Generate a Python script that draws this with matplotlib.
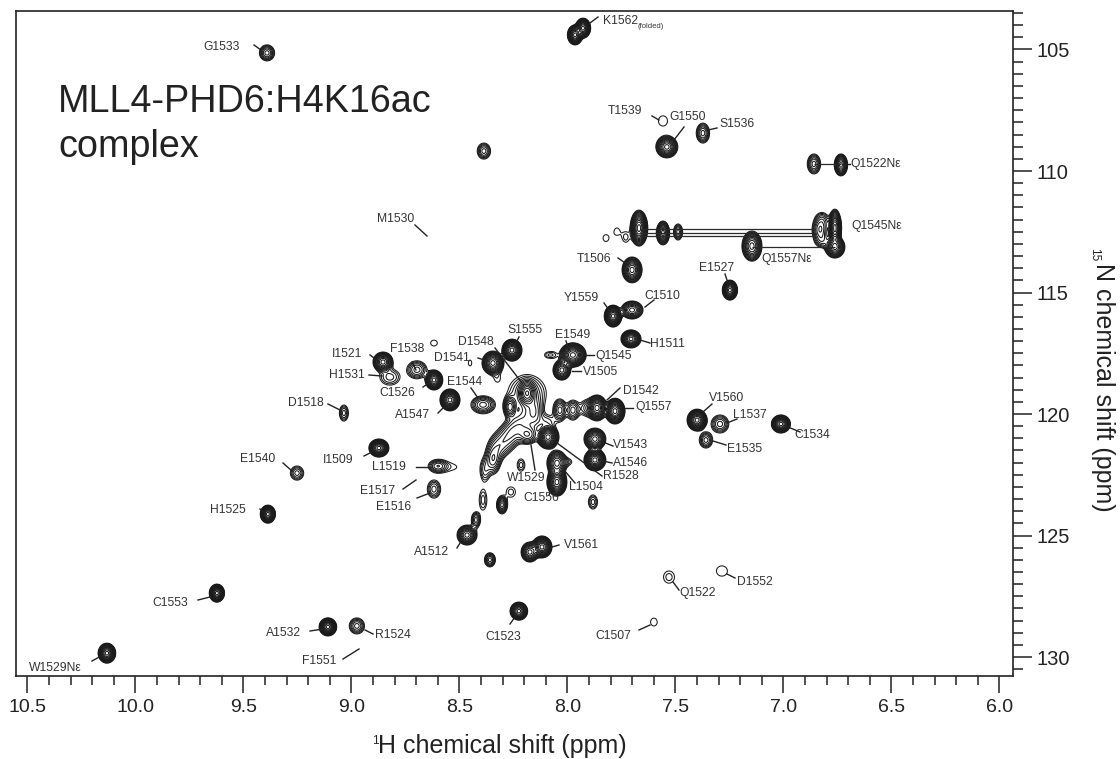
import numpy as np
import matplotlib
matplotlib.use('Agg')
import matplotlib.pyplot as plt
from matplotlib.lines import Line2D
from matplotlib.ticker import MultipleLocator

plt.rcParams['font.family'] = ['Liberation Sans', 'DejaVu Sans']

# peak centres (ppm), outer contour half widths (ppm), number of contour rings
peak_h = [9.391, 7.965, 7.928, 7.558, 7.54, 7.373, 8.387, 6.859, 6.734, 7.669,
          7.558, 7.488, 7.146, 6.762, 6.762, 6.831, 7.822, 7.771, 7.73, 7.248,
          7.701, 7.701, 7.789, 7.706, 8.257, 8.345, 7.975, 8.026, 8.067, 8.095,
          8.854, 8.822, 8.697, 8.618, 8.618, 8.451, 8.326, 8.544, 8.391, 8.187,
          8.266, 8.183, 8.257, 8.345, 8.326, 8.174, 8.095, 8.09, 8.035, 7.975,
          7.91, 7.863, 7.78, 7.873, 7.873, 8.049, 8.049, 8.002, 8.215, 8.6,
          8.544, 8.618, 8.873, 9.387, 9.035, 9.252, 7.4, 7.294, 7.359, 7.012,
          7.53, 7.285, 7.6, 8.225, 9.623, 9.109, 8.975, 10.132, 8.391, 8.424,
          8.465, 8.303, 8.262, 7.882, 8.118, 8.174, 8.359,
          8.187, 8.289, 8.22, 8.15, 8.382, 6.822, 6.822]
peak_n = [105.14, 104.40, 104.12, 107.94, 109.01, 108.44, 109.18, 109.71, 109.75, 112.35,
          112.55, 112.51, 113.09, 112.35, 113.13, 112.43, 112.76, 112.47, 112.72, 114.90,
          114.07, 115.72, 115.97, 116.91, 117.37, 117.90, 117.57, 118.19, 117.57, 117.57,
          117.86, 118.48, 118.18, 118.60, 117.08, 117.90, 118.52, 119.42, 119.62, 119.14,
          119.71, 120.86, 120.74, 121.89, 121.40, 120.04, 120.33, 120.95, 119.84, 119.84,
          119.75, 119.75, 119.88, 121.03, 121.89, 122.02, 122.80, 121.97, 122.10, 122.14,
          122.18, 123.09, 121.40, 124.12, 119.96, 122.43, 120.25, 120.41, 121.07, 120.41,
          126.71, 126.46, 128.56, 128.11, 127.37, 128.76, 128.72, 129.84, 123.54, 124.36,
          124.98, 123.74, 123.21, 123.62, 125.47, 125.68, 126.0,
          119.14, 121.07, 120.46, 119.92, 122.3, 112.06, 112.84]
peak_wh = [.032, .032, .032, .019, .046, .028, .028, .028, .028, .037,
           .028, .019, .042, .028, .042, .032, .012, .007, .014, .032,
           .042, .046, .037, .042, .042, .046, .056, .037, .014, .007,
           .042, .042, .042, .037, .014, .007, .009, .042, .051, .037,
           .028, .042, .037, .032, .037, .037, .032, .046, .028, .028,
           .028, .042, .042, .046, .046, .042, .042, .019, .016, .037,
           .028, .028, .042, .032, .019, .028, .042, .037, .028, .04,
           .023, .023, .014, .037, .032, .037, .032, .037, .016, .019,
           .042, .023, .019, .019, .042, .037, .023,
           .08, .04, .04, .025, .02, .03, .03]
peak_wn = [.33, .41, .41, .21, .45, .41, .33, .41, .45, .74,
           .49, .33, .62, .78, .45, .41, .14, .10, .21, .41,
           .53, .37, .45, .37, .45, .49, .5, .41, .12, .06,
           .41, .33, .37, .41, .12, .12, .12, .45, .37, .53,
           .45, .37, .49, .58, .49, .58, .25, .49, .45, .41,
           .33, .53, .53, .45, .45, .53, .58, .12, .25, .25,
           .12, .37, .37, .37, .33, .29, .45, .37, .33, .37,
           .25, .21, .16, .37, .37, .37, .33, .41, .41, .33,
           .41, .37, .21, .29, .45, .41, .29,
           .75, .5, .5, .5, .45, .35, .3]
peak_rings = [7, 14, 14, 1, 12, 7, 6, 7, 11, 14,
              11, 6, 11, 14, 12, 7, 1, 1, 2, 14,
              12, 10, 14, 13, 14, 13, 14, 11, 2, 1,
              12, 4, 6, 13, 1, 1, 1, 14, 7, 11,
              9, 7, 5, 7, 5, 4, 3, 14, 7, 6,
              4, 13, 14, 12, 14, 11, 14, 2, 3, 6,
              1, 5, 14, 14, 5, 5, 14, 6, 6, 14,
              2, 1, 1, 13, 14, 14, 6, 14, 3, 6,
              11, 9, 2, 4, 14, 11, 7,
              5, 5, 5, 4, 4, 5, 5]

# side-chain NH2 pairs joined by horizontal lines
link_n = [109.71, 112.39, 112.55, 112.68, 113.13]
link_from = [6.859, 7.665, 7.665, 7.665, 7.146]
link_to = [6.734, 6.855, 6.855, 6.855, 6.762]

x_major = [10.5, 10.0, 9.5, 9.0, 8.5, 8.0, 7.5, 7.0, 6.5, 6.0]
y_major = [105, 110, 115, 120, 125, 130]

# assignment labels: text, x, y in image pixels, alignment
labels = [('K1562', 603, 21, 'left'), ('G1533', 222, 47, 'center'), ('T1539', 625, 111, 'center'),
          ('G1550', 688, 117, 'center'), ('S1536', 737, 124, 'center'), ('Q1522Nε', 850, 164, 'left'),
          ('Q1545Nε', 851, 226, 'left'), ('Q1557Nε', 761, 259, 'left'), ('M1530', 396, 219, 'center'),
          ('T1506', 594, 259, 'center'), ('E1527', 717, 268, 'center'), ('Y1559', 581, 298, 'center'),
          ('C1510', 662, 296, 'center'), ('H1511', 650, 344, 'left'), ('E1549', 573, 335, 'center'),
          ('Q1545', 595, 356, 'left'), ('V1505', 583, 372, 'left'), ('S1555', 525, 330, 'center'),
          ('D1548', 476, 342, 'center'), ('D1541', 452, 358, 'center'), ('I1521', 347, 354, 'center'),
          ('F1538', 407, 349, 'center'), ('H1531', 347, 375, 'center'), ('C1526', 397, 393, 'center'),
          ('E1544', 465, 382, 'center'), ('A1547', 413, 415, 'center'), ('D1542', 623, 391, 'left'),
          ('Q1557', 635, 407, 'left'), ('V1543', 613, 445, 'left'), ('A1546', 613, 463, 'left'),
          ('R1528', 603, 476, 'left'), ('L1504', 569, 487, 'left'), ('C1556', 523, 498, 'left'),
          ('W1529', 507, 478, 'left'), ('L1519', 372, 467, 'left'), ('E1517', 360, 491, 'left'),
          ('E1516', 376, 507, 'left'), ('I1509', 338, 460, 'center'), ('D1518', 306, 403, 'center'),
          ('E1540', 258, 459, 'center'), ('H1525', 228, 510, 'center'), ('V1560', 727, 398, 'center'),
          ('L1537', 750, 415, 'center'), ('E1535', 745, 449, 'center'), ('C1534', 812, 435, 'center'),
          ('V1561', 564, 545, 'left'), ('A1512', 432, 552, 'center'), ('Q1522', 679, 593, 'left'),
          ('D1552', 737, 582, 'left'), ('C1507', 613, 636, 'center'), ('C1523', 503, 637, 'center'),
          ('C1553', 170, 603, 'center'), ('A1532', 284, 633, 'center'), ('R1524', 375, 635, 'left'),
          ('F1551', 319, 661, 'center'), ('W1529Nε', 29, 668, 'left')]

# leader lines, image pixels
leaders = [(590, 23, 598, 17), (254, 45, 261, 50), (652, 116, 659, 120), (684, 127, 674, 140),
           (717, 128, 708, 130), (843, 164, 850, 164), (415, 225, 427, 236), (618, 258, 628, 265),
           (725, 274, 728, 283), (604, 303, 609, 310), (654, 300, 645, 307), (640, 340, 650, 343),
           (566, 341, 569, 350), (585, 355, 594, 355), (572, 371, 581, 371), (519, 337, 516, 343),
           (495, 348, 522, 383), (478, 358, 487, 361), (370, 355, 378, 361), (412, 362, 416, 370),
           (369, 375, 382, 376), (423, 387, 429, 383), (471, 388, 478, 398), (438, 413, 443, 408),
           (620, 388, 607, 400), (625, 408, 633, 408), (603, 442, 613, 446), (603, 461, 612, 463),
           (557, 443, 602, 476), (564, 470, 575, 483), (551, 490, 549, 495), (531, 445, 535, 470),
           (416, 467, 432, 467), (403, 489, 416, 480), (417, 498, 430, 493), (364, 456, 372, 452),
           (328, 404, 340, 410), (283, 463, 292, 471), (260, 509, 265, 513), (712, 404, 703, 412),
           (737, 419, 727, 423), (726, 445, 713, 441), (800, 432, 788, 427), (552, 547, 559, 545),
           (457, 548, 460, 543), (679, 590, 673, 582), (735, 578, 727, 574), (639, 630, 650, 625),
           (510, 624, 515, 617), (198, 600, 210, 597), (310, 631, 323, 629), (365, 630, 373, 634),
           (343, 659, 359, 649), (92, 661, 101, 656)]

W, H = 1120, 759
L_PX, R_PX, T_PX, B_PX = 16, 1013, 11, 676
fig = plt.figure(figsize=(W / 100, H / 100), dpi=100)
ax = fig.add_axes([L_PX / W, 1 - B_PX / H, (R_PX - L_PX) / W, (B_PX - T_PX) / H])


def fx(x):
    return x / W


def fy(y):
    return 1 - y / H


# build the spectrum as a sum of 2D gaussians, one per peak
ratio = 1.3
grid_h = np.linspace(10.553, 5.9375, 1400)
grid_n = np.linspace(103.416, 130.78, 930)
surface = np.zeros((grid_n.size, grid_h.size))
for h0, n0, wh, wn, rings in zip(peak_h, peak_n, peak_wh, peak_wn, peak_rings):
    spread = np.sqrt(2 * (rings - 0.5) * np.log(ratio))
    gx = np.exp(-0.5 * ((grid_h - h0) / (1.1 * wh / spread)) ** 2)
    gy = np.exp(-0.5 * ((grid_n - n0) / (wn / spread)) ** 2)
    surface += ratio ** (rings - 0.5) * np.outer(gy, gx)

levels = ratio ** np.arange(0, 36)
ax.contour(grid_h, grid_n, surface, levels=levels, colors='#1a1a1a', linewidths=0.75)

ax.hlines(link_n, link_from, link_to, colors='#2a2a2a', linewidth=0.9)

ax.set_xlim(10.553, 5.9375)
ax.set_ylim(130.78, 103.416)
ax.yaxis.tick_right()
ax.set_xticks(x_major)
ax.set_yticks(y_major)
ax.set_xticklabels([f'{v:.1f}' for v in x_major])
ax.xaxis.set_minor_locator(MultipleLocator(0.1))
ax.yaxis.set_minor_locator(MultipleLocator(0.5))
ax.tick_params(axis='x', which='major', length=12.5, width=1.1, labelsize=14, pad=4, colors='#222222')
ax.tick_params(axis='x', which='minor', length=6.5, width=1.1, colors='#222222')
ax.tick_params(axis='y', which='major', length=14, width=1.1, labelsize=14.5, pad=3, colors='#222222')
ax.tick_params(axis='y', which='minor', length=7, width=1.1, colors='#222222')
for side in ax.spines.values():
    side.set_linewidth(1.2)
    side.set_color('#222222')

for name, x, y, align in labels:
    fig.text(fx(x), fy(y), name, fontsize=8.7, ha=align, va='center', color='#333333')
fig.text(fx(638), fy(27), '(folded)', fontsize=5.5, ha='left', va='center', color='#333333')

for x0, y0, x1, y1 in leaders:
    fig.add_artist(Line2D([fx(x0), fx(x1)], [fy(y0), fy(y1)], color='#222222', linewidth=1.0))

fig.text(fx(58), fy(102), 'MLL4-PHD6:H4K16ac', fontsize=27.2, ha='left', va='center', color='#222222')
fig.text(fx(58), fy(147), 'complex', fontsize=27.2, ha='left', va='center', color='#222222')

fig.text(fx(372), fy(741), '1', fontsize=8.5, ha='left', va='center', color='#222222')
fig.text(fx(378), fy(753), 'H chemical shift (ppm)', fontsize=18, ha='left', va='baseline', color='#222222')
fig.text(fx(1094), fy(255), '15', fontsize=8.5, rotation=270, ha='center', va='center', color='#222222')
fig.text(fx(1103), fy(263), 'N chemical shift (ppm)', fontsize=18, rotation=270,
         ha='center', va='top', color='#222222')

fig.savefig('out.png', dpi=100)
